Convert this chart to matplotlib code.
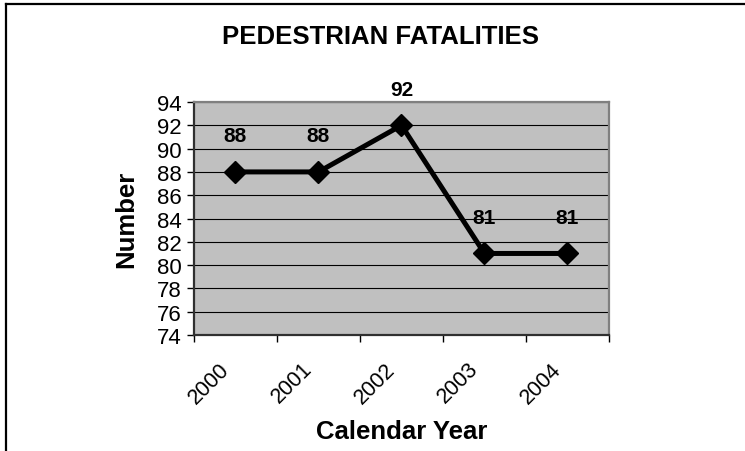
import matplotlib
matplotlib.use("Agg")
import matplotlib.pyplot as plt
import matplotlib.transforms as mtransforms
from matplotlib.lines import Line2D

plt.rcParams['font.family'] = ['Liberation Sans', 'DejaVu Sans']

years = ["2000", "2001", "2002", "2003", "2004"]
fatalities = [88, 88, 92, 81, 81]
y_ticks = [74, 76, 78, 80, 82, 84, 86, 88, 90, 92, 94]

fig = plt.figure(figsize=(7.45, 4.52), dpi=100)
ax = fig.add_axes([0.2604, 0.2566, 0.557, 0.5155])
ax.set_facecolor("#C0C0C0")

x = list(range(len(years)))
ax.plot(x, fatalities, color="black", lw=3.6, marker="D", markersize=11,
        markerfacecolor="black", markeredgecolor="black", zorder=3)

for xi, v in zip(x, fatalities):
    ax.annotate(str(v), (xi, v), xytext=(0, 26), textcoords="offset points",
                ha="center", va="center", fontsize=15, fontweight="bold")

ax.set_xlim(-0.5, len(years) - 0.5)
ax.set_ylim(y_ticks[0], y_ticks[-1])
ax.set_yticks(y_ticks)
ax.tick_params(axis="y", labelsize=16, length=5, width=1, pad=4, colors="black")
ax.yaxis.grid(True, color="black", lw=0.8)
ax.set_axisbelow(True)

# category boundaries get tick marks, labels sit at the category centres
ax.set_xticks([i - 0.5 for i in range(len(years) + 1)])
ax.set_xticklabels([])
ax.tick_params(axis="x", which="major", length=5, width=1)
ax.set_xticks(x, minor=True)
ax.set_xticklabels(years, minor=True, rotation=45, ha="right", va="center",
                   rotation_mode="anchor", fontsize=15.5)
ax.tick_params(axis="x", which="minor", length=0, pad=22)
shift = mtransforms.ScaledTranslation(-9 / 100, 0, fig.dpi_scale_trans)
for lbl in ax.get_xticklabels(minor=True):
    lbl.set_transform(lbl.get_transform() + shift)

for side in ["top", "right"]:
    ax.spines[side].set_color("#808080")
    ax.spines[side].set_linewidth(1.6)
for side in ["left", "bottom"]:
    ax.spines[side].set_color("#303030")
    ax.spines[side].set_linewidth(1.6)

ax.set_ylabel("Number", fontsize=18.5, fontweight="bold", va="center")
ax.yaxis.set_label_coords(-68 / 415, 0.5)
ax.set_xlabel("Calendar Year", fontsize=18.5, fontweight="bold", va="center")
ax.xaxis.set_label_coords(0.5, -(432 - 336) / 233)
fig.text(380 / 745, 1 - 37 / 452, "PEDESTRIAN FATALITIES", fontsize=18.5,
         fontweight="bold", ha="center", va="center")

# outer chart frame (top and left edges visible)
fig.add_artist(Line2D([6 / 745, 1], [1 - 5 / 452, 1 - 5 / 452], color="black", lw=1.6,
                      transform=fig.transFigure))
fig.add_artist(Line2D([6 / 745, 6 / 745], [0, 1 - 5 / 452], color="black", lw=1.6,
                      transform=fig.transFigure))

fig.savefig("out.png", dpi=100)
